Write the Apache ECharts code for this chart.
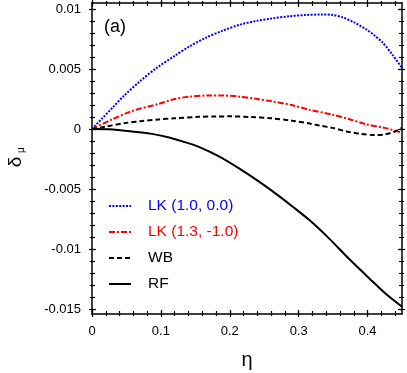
<!DOCTYPE html>
<html><head><meta charset="utf-8">
<script src="https://cdn.jsdelivr.net/npm/echarts@6/dist/echarts.min.js"></script>
<style>html,body{margin:0;padding:0;background:#fff}#c{width:407px;height:373px}</style>
</head><body><div id="c"></div>
<script>
const FONT = "'Liberation Sans', Arial, Helvetica, sans-serif";
// tick positions / labels
const xMajor = [0, 0.1, 0.2, 0.3, 0.4];
const xMinor = [0, 0.02, 0.04, 0.06, 0.08, 0.1, 0.12, 0.14, 0.16, 0.18, 0.2, 0.22, 0.24, 0.26, 0.28, 0.3, 0.32, 0.34, 0.36, 0.38, 0.4, 0.42, 0.44];
const yMajor = [-0.015, -0.01, -0.005, 0, 0.005, 0.01];
const yMinor = [-0.015, -0.014, -0.013, -0.012, -0.011, -0.01, -0.009, -0.008, -0.007, -0.006, -0.005, -0.004, -0.003, -0.002, -0.001, 0, 0.001, 0.002, 0.003, 0.004, 0.005, 0.006, 0.007, 0.008, 0.009, 0.01];

// series names
const names = ['LK (1.0, 0.0)', 'LK (1.3, -1.0)', 'WB', 'RF'];

// LK (1.0, 0.0)
const lk1Eta = [0, 0.015, 0.03, 0.045, 0.07, 0.094, 0.12, 0.142, 0.165, 0.19, 0.215, 0.238, 0.26, 0.287, 0.31, 0.333, 0.35, 0.364, 0.38, 0.398, 0.41, 0.422, 0.436, 0.45];
const lk1Val = [0, 0.0009, 0.0018, 0.0027, 0.0040, 0.0051, 0.0061, 0.0069, 0.0076, 0.0082, 0.0087, 0.0090, 0.0092, 0.0094, 0.0095, 0.00954, 0.0095, 0.0093, 0.0089, 0.0083, 0.0078, 0.0072, 0.0062, 0.0051];
// LK (1.3, -1.0)
const lk2Eta = [0, 0.029, 0.058, 0.097, 0.12, 0.142, 0.17, 0.19, 0.214, 0.24, 0.262, 0.29, 0.316, 0.349, 0.375, 0.398, 0.425, 0.45];
const lk2Val = [0, 0.0008, 0.0015, 0.0021, 0.0025, 0.0027, 0.0028, 0.0028, 0.0027, 0.0025, 0.0023, 0.0020, 0.0016, 0.0012, 0.0008, 0.0004, 0.0001, -0.0003];
// WB
const wbEta = [0, 0.02, 0.048, 0.07, 0.097, 0.12, 0.155, 0.18, 0.2, 0.23, 0.26, 0.29, 0.316, 0.33, 0.349, 0.37, 0.39, 0.41, 0.425, 0.44, 0.45];
const wbVal = [0, 0.0002, 0.0005, 0.00065, 0.0008, 0.0009, 0.00102, 0.00105, 0.00106, 0.001, 0.0009, 0.0007, 0.00046, 0.0003, 0.0001, -0.0002, -0.0004, -0.0005, -0.00045, -0.0002, 0.0001];
// RF
const rfEta = [0, 0.03, 0.058, 0.087, 0.112, 0.13, 0.156, 0.185, 0.214, 0.243, 0.272, 0.29, 0.316, 0.344, 0.373, 0.402, 0.426, 0.45];
const rfVal = [0, -0.00003, -0.0002, -0.0004, -0.0007, -0.001, -0.0015, -0.0023, -0.0033, -0.0044, -0.0056, -0.0064, -0.0076, -0.0091, -0.0108, -0.0124, -0.0137, -0.0148];

const zip = (a, b) => a.map((v, i) => [v, b[i]]);
const AX = {color: '#000', width: 1.5};
const TK = {color: '#000', width: 1.2};

function mkAxis(pos, inside, len, vals, withLine, withLabel, extra) {
  const a = {
    type: 'value', position: pos,
    axisLine: {show: withLine, onZero: false, lineStyle: AX},
    axisTick: {show: true, inside: inside, length: len, customValues: vals, lineStyle: TK},
    axisLabel: withLabel ? {show: true, customValues: withLabel, color: '#000', fontSize: 13, fontFamily: FONT, margin: 11} : {show: false},
    splitLine: {show: false}, minorTick: {show: false}
  };
  return Object.assign(a, extra);
}
const xr = {min: 0, max: 0.45};
const yr = {min: -0.0154, max: 0.0105};
const xAxes = [], yAxes = [];
['bottom', 'top'].forEach((p, k) => {
  xAxes.push(mkAxis(p, true, 4, xMajor, true, k === 0 ? xMajor : null, xr));
  xAxes.push(mkAxis(p, false, 3, xMajor, false, null, xr));
  xAxes.push(mkAxis(p, true, 3, xMinor, false, null, xr));
  xAxes.push(mkAxis(p, false, 2, xMinor, false, null, xr));
});
['left', 'right'].forEach((p, k) => {
  yAxes.push(mkAxis(p, true, 4, yMajor, true, k === 0 ? yMajor : null, yr));
  yAxes.push(mkAxis(p, false, 3, yMajor, false, null, yr));
  yAxes.push(mkAxis(p, true, 3, yMinor, false, null, yr));
  yAxes.push(mkAxis(p, false, 2, yMinor, false, null, yr));
});

const chart = echarts.init(document.getElementById('c'), null, {renderer: 'canvas'});
const lineSer = (name, data, color, dash) => ({
  name, type: 'line', data, xAxisIndex: 0, yAxisIndex: 0, symbol: 'none', smooth: 0.3,
  lineStyle: {color, width: 2, type: dash}, itemStyle: {color}, animation: false, clip: true
});
chart.setOption({
  animation: false,
  textStyle: {fontFamily: FONT},
  grid: {left: 92, top: 3, width: 310, height: 311, containLabel: false},
  xAxis: xAxes,
  yAxis: yAxes,
  legend: {
    orient: 'vertical', left: 108, top: 198, padding: 0,
    itemWidth: 22, itemHeight: 14, itemGap: 10,
    itemStyle: {opacity: 0},
    textStyle: {fontSize: 15.5, fontFamily: FONT, padding: [0, 0, 0, 12]},
    data: [
      {name: names[0], textStyle: {color: '#0000ff'}},
      {name: names[1], textStyle: {color: '#ff0000'}},
      {name: names[2], textStyle: {color: '#000'}},
      {name: names[3], textStyle: {color: '#000'}}
    ]
  },
  graphic: [
    {type: 'text', x: 115, y: 27, style: {text: '(a)', fontSize: 18, fontFamily: FONT, fill: '#000', align: 'center', verticalAlign: 'middle'}},
    {type: 'text', x: 247, y: 360, style: {text: 'η', fontSize: 20, fontFamily: FONT, fill: '#000', align: 'center', verticalAlign: 'middle'}},
    {type: 'group', x: 16, y: 162, rotation: Math.PI / 2, children: [
      {type: 'text', x: 0, y: 0, style: {text: 'δ', fontSize: 19, fontFamily: FONT, fill: '#000', align: 'center', verticalAlign: 'middle'}},
      {type: 'text', x: 9, y: 5, style: {text: 'μ', fontSize: 10, fontFamily: FONT, fill: '#000', align: 'left', verticalAlign: 'middle'}}
    ]}
  ],
  series: [
    lineSer(names[0], zip(lk1Eta, lk1Val), '#0000ff', [2, 1.4]),
    lineSer(names[1], zip(lk2Eta, lk2Val), '#ff0000', [6, 2, 2, 2]),
    lineSer(names[2], zip(wbEta, wbVal), '#000000', [5, 3]),
    lineSer(names[3], zip(rfEta, rfVal), '#000000', 'solid')
  ]
});
</script></body></html>
